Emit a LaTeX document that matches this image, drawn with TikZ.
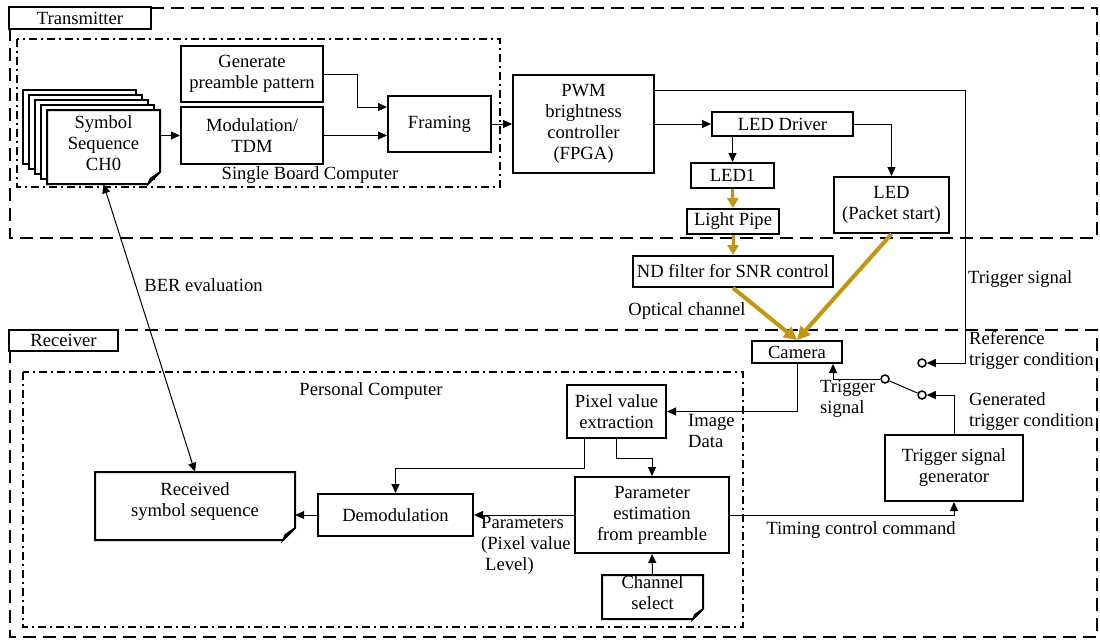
\documentclass[tikz,border=0pt]{standalone}
\usepackage{fontspec}
\setmainfont{Liberation Serif}
\usetikzlibrary{arrows.meta,calc}
\definecolor{gold}{RGB}{197,150,10}
\tikzset{
  every node/.style={font=\fontsize{18.6}{21}\selectfont},
  blk/.style={draw,line width=2pt,fill=white,inner sep=0pt,align=center},
  txt/.style={inner sep=0pt,align=center},
  txtl/.style={inner sep=0pt,align=left,anchor=west},
  arr/.style={line width=1pt,-{Triangle[length=9pt,width=8pt]}},
  conn/.style={line width=1pt},
  opt/.style={gold,line width=3pt,-{Triangle[length=10pt,width=11pt]}},
  optd/.style={gold,line width=4pt,-{Triangle[length=13pt,width=13pt]}},
  grp/.style={line width=2.6pt,dash pattern=on 13pt off 7pt},
  sub/.style={line width=2pt,dash pattern=on 8pt off 4pt on 2pt off 4pt},
  sw/.style={circle,draw,line width=1.5pt,fill=white,minimum size=8pt,inner sep=0pt},
  doc/.style={draw=none,inner sep=0pt,align=center},
}
% document symbol: name, cx, cy, width, height, fold, text
\newcommand\docnode[7]{%
  \draw[line width=2pt,fill=white] ({#2-#4/2},{#3-#5/2}) -- ({#2+#4/2},{#3-#5/2})
     -- ({#2+#4/2},{#3+#5/2-#6}) -- ({#2+#4/2-#6},{#3+#5/2}) -- ({#2-#4/2},{#3+#5/2}) -- cycle;
  \draw[line width=1.5pt,fill=black!35] ({#2+#4/2},{#3+#5/2-#6}) -- ({#2+#4/2-0.8*#6},{#3+#5/2-0.45*#6})
     -- ({#2+#4/2-#6},{#3+#5/2}) -- cycle;
  \node[doc,minimum width=#4pt,minimum height=#5pt,
        label={[txt,yshift=4pt]center:{#7}}] (#1) at (#2,#3) {};}
\begin{document}
\begin{tikzpicture}[x=1pt,y=-1pt]
\useasboundingbox (0,0) rectangle (1100,640);

% ---------- group frames ----------
\draw[grp] (10,8) rectangle (1097,238);
\draw[grp] (10,330) rectangle (1097,637);
\draw[sub] (17,39) rectangle (500,187);
\draw[sub] (23,372) rectangle (743,627);
\node[blk,minimum width=142pt,minimum height=22pt] (txlab) at (80,18) {Transmitter};
\node[blk,minimum width=109pt,minimum height=21pt] (rxlab) at (63.5,340.5) {Receiver};

% ---------- transmitter ----------
\foreach \k in {4,3,2,1}
  \draw[line width=2pt,fill=white] ({47-6*\k},{110-5*\k}) rectangle ({160-6*\k},{184-5*\k});
\docnode{sym}{103.5}{147}{113}{74}{12}{Symbol\\Sequence\\CH0}

\node[blk,minimum width=142pt,minimum height=56pt] (gen) at (252,74) {Generate\\preamble pattern};
\node[blk,minimum width=142pt,minimum height=57pt] (mod) at (252,135.5) {Modulation/\\TDM};
\node[blk,minimum width=103pt,minimum height=56pt] (framing) at (439.5,124) {Framing};
\node[txt] (sbclab) at (310,175) {Single Board Computer};

\node[blk,minimum width=141pt,minimum height=98pt] (pwm) at (583.5,124) {PWM\\brightness\\controller\\(FPGA)};
\node[blk,minimum width=141pt,minimum height=24pt] (driver) at (782.5,124) {LED Driver};
\node[blk,minimum width=83pt,minimum height=25pt] (led1) at (732.5,175.5) {LED1};
\node[blk,minimum width=92pt,minimum height=25pt] (pipe) at (733,221.5) {Light Pipe};
\node[blk,minimum width=115pt,minimum height=56pt] (ledps) at (891.5,205) {LED\\(Packet start)};
\node[blk,minimum width=200pt,minimum height=31pt] (nd) at (733,271.5) {ND filter for SNR control};

\draw[arr] (sym.east |- mod.west) -- (mod.west);
\draw[arr] (gen.east) -- ++(33,0) |- ($(framing.west)+(0,-17)$);
\draw[arr] (mod.east) -- (mod.east -| framing.west);
\draw[arr] (framing.east) -- (pwm.west);
\draw[arr] (pwm.east) -- (driver.west);
\draw[arr] (driver.south -| led1.north) -- (led1.north);
\draw[arr] (driver.east) -| (ledps.north);
\draw[opt] (led1.south) -- (pipe.north);
\draw[opt] (pipe.south) -- (nd.north);

% ---------- receiver ----------
\node[blk,minimum width=90pt,minimum height=22pt] (camera) at (797,352) {Camera};
\node[blk,minimum width=99pt,minimum height=53pt] (pixel) at (616.5,411.5) {Pixel value\\extraction};
\node[blk,minimum width=154pt,minimum height=76pt] (param) at (652,515) {Parameter\\estimation\\from preamble};
\node[blk,minimum width=155pt,minimum height=42pt] (demod) at (395.5,515) {Demodulation};
\docnode{recv}{195}{506}{200}{68}{12}{Received\\symbol sequence}
\docnode{chsel}{652.5}{597}{101}{44}{10}{Channel\\select}
\node[blk,minimum width=138pt,minimum height=66pt] (tsg) at (954,468) {Trigger signal\\generator};
\node[txt] (pclab) at (371,391) {Personal Computer};

% trigger switch
\node[sw] (refc) at (922,363) {};
\node[sw] (pivot) at (885,379) {};
\node[sw] (genc) at (922,395) {};

% optical paths
\draw[optd] (nd.south) -- (camera.north);
\draw[optd] (ledps.south) -- (camera.north);

% signal paths
\draw[arr] ($(pwm.north east)+(0,16)$) -| ($(refc)+(43,0)$) -- (refc);
\draw[conn] (pivot) -- (genc);
\draw[arr] (pivot) -| ($(camera.south east)+(-10,0)$);
\draw[arr] (tsg.north) |- (genc);
\draw[arr] (camera.south) |- (pixel.east);
\draw[arr] (pixel.south) -- ++(0,19) -| (param.north);
\draw[arr] ($(pixel.south west)+(18,0)$) -- ++(0,29) -| (demod.north);
\draw[arr] (param.west) -- (demod.east);
\draw[arr] (demod.west) -- (demod.west -| recv.east);
\draw[arr] (chsel.north) -- (param.south);
\draw[arr] (param.east) -| (tsg.south);
\draw[line width=1pt,{Triangle[length=9pt,width=8pt]}-{Triangle[length=9pt,width=8pt]}] (sym.south) -- (recv.north);

% ---------- labels ----------
\node[txt] (berlab) at (203.5,285) {BER evaluation};
\node[txt] (optlab) at (687,311) {Optical channel};
\node[txtl] (trglab) at (968,279) {Trigger signal};
\node[txtl] (reflab) at (969,350) {Reference\\trigger condition};
\node[txtl] (genlab) at (969,412) {Generated\\trigger condition};
\node[txtl] (swlab) at (820,398.5) {Trigger\\signal};
\node[txtl] (imglab) at (688,430.5) {Image\\Data};
\node[txtl] (parlab) at (481,545.5) {Parameters\\(Pixel value\\\hspace*{4pt}Level)};
\node[txt] (timlab) at (861,530) {Timing control command};
\end{tikzpicture}
\end{document}
